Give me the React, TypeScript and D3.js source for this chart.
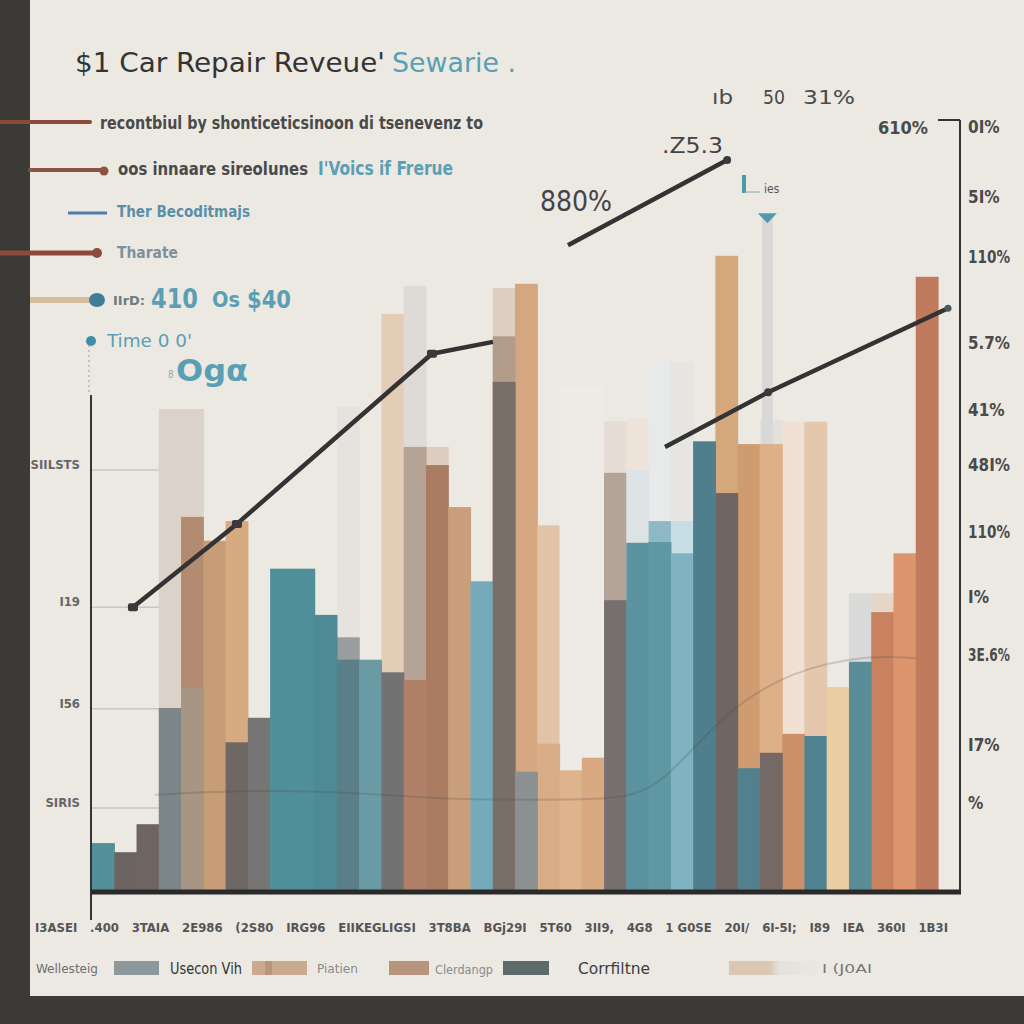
import React from 'react';
import * as d3 from 'd3';

// ---------- DATA ----------
const xLabels = ["I3ASEI", ".400", "3TAIA", "2E986", "(2S80", "IRG96", "EIIKEGLIGSI", "3T8BA", "BGj29I", "5T60", "3II9,", "4G8", "1 G0SE", "20I/", "6I-5I;", "I89", "IEA", "360I", "1B3I"];

const SLOTS = 38;
// back (pale, tall) layer
const backValues = [null, null, null, 68.7, 68.7, null, null, null, null, null, null, 69.0, null, 82.3, 86.3, 63.3, null, null, 86.0, 86.6, 52.1, 72.0, 72.0, 67.0, 67.3, 75.4, 75.4, null, 90.6, 63.7, 67.1, 66.9, 66.9, null, 42.4, 42.4, null, null];
// middle layer
const midValues = [null, null, null, null, 53.3, 49.9, 52.7, null, null, null, null, 36.1, null, null, 63.3, 60.7, 54.7, null, 79.1, null, 20.9, null, null, 59.6, 60.0, 52.7, 52.7, null, 56.7, null, 63.7, 22.3, null, null, null, 39.7, 48.1, 87.6];
// front layer
const frontValues = [6.7, 5.4, 9.4, 26.0, 28.9, null, 21.1, 24.6, 45.9, 45.9, 39.3, 32.9, 32.9, 31.1, 30.0, null, null, 44.1, 72.6, 16.9, null, 17.1, 18.9, 41.4, 49.6, 49.7, 48.1, 64.1, null, 17.4, 19.6, null, 22.0, 29.0, 32.6, null, null, null];
// thin needle bar
const needleSlot = 30;
const needleValue = 96.4;

// trend line segments (slot position, value)
const trend1Slots = [1.84, 6.51, 15.27, 18.01];
const trend1Values = [40.4, 52.3, 76.6, 78.3];
const trend2Slots = [21.38, 28.53];
const trend2Values = [92.1, 104.3];
const trend3Slots = [25.74, 30.37, 38.45];
const trend3Values = [63.3, 71.1, 83.1];
// faint curve
const faintSlots = [2.83, 7.1, 11.6, 16.1, 20.1, 23.3, 25.5, 28.2, 31.4, 34.9, 37.0];
const faintValues = [13.6, 14.3, 14.0, 12.9, 12.9, 12.9, 14.3, 25.0, 31.4, 33.6, 33.1];

const leftTicks = [60.0, 40.4, 25.9, 11.7];
const leftTickLabels = ["SIILSTS", "I19", "I56", "SIRIS"];
const rightTicks = [109, 99, 90.4, 78.1, 68.6, 60.7, 51.1, 41.9, 33.6, 20.7, 12.4];
const rightTickLabels = ["0I%", "5I%", "110%", "5.7%", "41%", "48I%", "110%", "I%", "3E.6%", "I7%", "%"];

const legendLabels = ["Wellesteig", "Usecon Vih", "Piatien", "Clerdangp", "Corrfiltne", "I (J0AI"];

// ---------- STYLES ----------
const backColors = ["", "", "", "#dbd2c9", "#dbd2c9", "", "", "", "", "", "", "#e6e3de", "", "#e3cdb6", "#dedad5", "#dccdc0", "", "", "#ddd0c3", "#d4a781", "#e1c3a8", "#eeebe6", "#eeebe6", "#e6ddd6", "#ede3d8", "#e8e9e9", "#e7e5e2", "", "#d5a77c", "#cf9c72", "#e2e0dc", "#efe0d3", "#e4c8ae", "", "#d9dbdb", "#e6d6c8", "", ""];
const midColors = ["", "", "", "", "#b38b70", "#c69d76", "#d6ab81", "", "", "", "", "#9a9d9d", "", "", "#b5a496", "#a97c62", "#c99f7b", "", "#b49c8a", "", "#d8ad85", "", "", "#b4a398", "#dde3e4", "#8db8c5", "#c6dde3", "", "#6f6563", "", "#deb088", "#cc8f6a", "", "", "", "#c9825f", "#dc956c", "#c07a5d"];
const frontColors = ["#52909a", "#6c6461", "#6e6562", "#7d8688", "#a89584", "", "#6f6763", "#767573", "#4f8f99", "#4f8f99", "#4e8a95", "#5a7f88", "#6a9ba5", "#727272", "#b08168", "", "", "#75aabb", "#7a6e69", "#8b9090", "", "#ddb48c", "#d9a982", "#767170", "#5c93a0", "#5f97a3", "#7fb3c1", "#4f7f8c", "", "#52808c", "#756966", "", "#4f8190", "#ebcfa3", "#5b8d98", "", "", ""];

const FONT = "'Liberation Sans Narrow','DejaVu Sans Condensed','Roboto Condensed',Roboto,sans-serif";
const TEAL = "#5a9fb4";

function measure(labels: string[], font: string): number[] {
  try {
    const ctx = document.createElement('canvas').getContext('2d') as CanvasRenderingContext2D;
    ctx.font = font;
    return labels.map(l => ctx.measureText(l).width);
  } catch (e) {
    return labels.map(l => l.length * 7.5);
  }
}

export default function App() {
  const x = d3.scaleLinear().domain([0, SLOTS]).range([92, 938]);
  const y = d3.scaleLinear().domain([0, 100]).range([890, 190]);
  const y0 = y(0);

  const bar = (vals: (number | null)[], cols: string[], key: string) =>
    vals.map((v, i) =>
      v == null ? null : (
        <rect key={key + i} x={x(i)} y={y(v)} width={x(i + 1) - x(i) + 0.6} height={y0 - y(v)} fill={cols[i]} />
      )
    );

  const lineGen = d3.line<[number, number]>().x(d => x(d[0])).y(d => y(d[1]));
  const seg = (s: number[], v: number[]) => lineGen(s.map((p, i) => [p, v[i]] as [number, number])) || '';
  const faintGen = d3.line<[number, number]>().x(d => x(d[0])).y(d => y(d[1])).curve(d3.curveBasis);

  // x label layout (justified)
  const xlFont = `bold 13px ${FONT}`;
  const widths = measure(xLabels, xlFont);
  const total = widths.reduce((a, b) => a + b, 0);
  const gap = (948 - 35 - total) / (xLabels.length - 1);
  let cx = 35;
  const xlPos = widths.map(w => { const p = cx; cx += w + gap; return p; });

  const rtWidths = measure(rightTickLabels, `bold 17px ${FONT}`);

  const nx0 = x(needleSlot + 0.09), nx1 = x(needleSlot + 0.58);

  return (
    <svg width={1024} height={1024} style={{ position: 'absolute', left: 0, top: 0 }} fontFamily={FONT}>
      <rect x={0} y={0} width={1024} height={1024} fill="#3b3a37" />
      <rect x={30} y={0} width={994} height={996} fill="#ece9e3" />

      {/* title */}
      <text x={75} y={72} fontSize={27} fill="#343434" textLength={310} lengthAdjust="spacingAndGlyphs">$1 Car Repair Reveue'</text>
      <text x={392} y={72} fontSize={27} fill={TEAL} textLength={124} lengthAdjust="spacingAndGlyphs">Sewarie .</text>

      {/* leaders */}
      <line x1={0} y1={122} x2={90} y2={122} stroke="#8c4a3a" strokeWidth={4} strokeLinecap="round" />
      <line x1={30} y1={170} x2={104} y2={170} stroke="#8a5444" strokeWidth={4} strokeLinecap="round" />
      <circle cx={104} cy={171} r={4.5} fill="#8a5444" />
      <line x1={68} y1={213} x2={107} y2={213} stroke="#4d7fae" strokeWidth={3} />
      <line x1={0} y1={253} x2={97} y2={253} stroke="#8c4a3a" strokeWidth={5} strokeLinecap="round" />
      <circle cx={97} cy={253} r={5} fill="#8c4a3a" />
      <line x1={30} y1={300} x2={92} y2={300} stroke="#d8bc9e" strokeWidth={6} />
      <ellipse cx={97} cy={300} rx={8} ry={7} fill="#3f7e98" />

      {/* subtitle texts */}
      <text x={100} y={129} fontSize={17} fontWeight="bold" fill="#4a4a4a" textLength={383} lengthAdjust="spacingAndGlyphs">recontbiul by shonticeticsinoon di tsenevenz to</text>
      <text x={118} y={175} fontSize={17} fontWeight="bold" fill="#4a4a4a" textLength={190} lengthAdjust="spacingAndGlyphs">oos innaare sireolunes</text>
      <text x={318} y={175} fontSize={19} fontWeight="bold" fill={TEAL} textLength={135} lengthAdjust="spacingAndGlyphs">I'Voics if Frerue</text>
      <text x={117} y={217} fontSize={16} fontWeight="bold" fill="#5b8fa8" textLength={133} lengthAdjust="spacingAndGlyphs">Ther Becoditmajs</text>
      <text x={117} y={258} fontSize={15} fontWeight="bold" fill="#7f909a" textLength={61} lengthAdjust="spacingAndGlyphs">Tharate</text>
      <text x={113} y={305} fontSize={13} fontWeight="bold" fill="#707a80" textLength={32} lengthAdjust="spacingAndGlyphs">IIrD:</text>
      <text x={151} y={308} fontSize={26} fontWeight="bold" fill={TEAL} textLength={47} lengthAdjust="spacingAndGlyphs">410</text>
      <text x={212} y={307} fontSize={21} fontWeight="bold" fill={TEAL} textLength={28} lengthAdjust="spacingAndGlyphs">Os</text>
      <text x={247} y={308} fontSize={24} fontWeight="bold" fill={TEAL} textLength={44} lengthAdjust="spacingAndGlyphs">$40</text>
      <circle cx={91} cy={341} r={5} fill="#3f8ea8" />
      <text x={107} y={347} fontSize={18} fill={TEAL} textLength={85} lengthAdjust="spacingAndGlyphs">Time 0 0'</text>
      <text x={168} y={378} fontSize={10} fill="#9aa" >8</text>
      <text x={176} y={381} fontSize={30} fontWeight="bold" fill={TEAL} textLength={72} lengthAdjust="spacingAndGlyphs">Ogα</text>

      {/* top-right annotations */}
      <text x={712} y={104} fontSize={19} fill="#4a4a4a" textLength={21} lengthAdjust="spacingAndGlyphs">ıb</text>
      <text x={763} y={104} fontSize={19} fill="#4a4a4a" textLength={22} lengthAdjust="spacingAndGlyphs">50</text>
      <text x={803} y={104} fontSize={19} fill="#4a4a4a" textLength={52} lengthAdjust="spacingAndGlyphs">31%</text>
      <text x={662} y={153} fontSize={22} fill="#444" textLength={61} lengthAdjust="spacingAndGlyphs">.Z5.3</text>
      <text x={540} y={211} fontSize={28} fill="#444" textLength={72} lengthAdjust="spacingAndGlyphs">880%</text>
      <text x={878} y={134} fontSize={18} fontWeight="bold" fill="#4a4a4a" textLength={50} lengthAdjust="spacingAndGlyphs">610%</text>
      <rect x={742} y={175} width={4} height={18} fill="#4a9aaa" />
      <line x1={744} y1={192} x2={760} y2={192} stroke="#7aaab8" strokeWidth={1} />
      <text x={764} y={193} fontSize={12} fill="#555">ies</text>

      {/* left gridlines */}
      {leftTicks.map((t, i) => (
        <line key={'g' + i} x1={91} x2={175} y1={y(t)} y2={y(t)} stroke="#c9c6c0" strokeWidth={1.5} />
      ))}

      {/* bars */}
      {bar(backValues, backColors, 'b')}
      <rect x={nx0} y={y(needleValue)} width={nx1 - nx0} height={y0 - y(needleValue)} fill="#d8d8d6" />
      <path d={`M${nx0 - 4},${y(needleValue) - 2} L${nx1 + 4},${y(needleValue) - 2} L${(nx0 + nx1) / 2},${y(needleValue) + 8} Z`} fill="#4f9aae" />
      {bar(midValues, midColors, 'm')}
      {bar(frontValues, frontColors, 'f')}

      {/* faint curve */}
      <path d={faintGen(faintSlots.map((p, i) => [p, faintValues[i]] as [number, number])) || ''} fill="none" stroke="#4a4a4a" strokeOpacity={0.22} strokeWidth={2} />

      {/* trend lines */}
      {[[trend1Slots, trend1Values], [trend2Slots, trend2Values], [trend3Slots, trend3Values]].map((s, k) => (
        <path key={'t' + k} d={seg(s[0], s[1])} fill="none" stroke="#333" strokeWidth={4.5} strokeLinejoin="round" />
      ))}
      {trend1Slots.slice(0, 3).map((p, i) => (
        <rect key={'mk' + i} x={x(p) - 5} y={y(trend1Values[i]) - 4} width={10} height={8} rx={2} fill="#3a3a3a" />
      ))}
      <circle cx={x(trend2Slots[1])} cy={y(trend2Values[1])} r={4} fill="#3a3a3a" />
      <circle cx={x(trend3Slots[1])} cy={y(trend3Values[1])} r={4} fill="#3a3a3a" />
      <circle cx={x(trend3Slots[2])} cy={y(trend3Values[2])} r={3.5} fill="#4a5a60" />

      {/* left axis */}
      <line x1={89} x2={89} y1={345} y2={395} stroke="#999" strokeWidth={1} strokeDasharray="2,3" />
      <line x1={91} x2={91} y1={395} y2={920} stroke="#333" strokeWidth={2} />
      {leftTicks.map((t, i) => (
        <text key={'lt' + i} x={80} y={y(t) - 1} fontSize={13} fontWeight="bold" fill="#666" textAnchor="end">{leftTickLabels[i]}</text>
      ))}

      {/* baseline */}
      <line x1={91} x2={961} y1={y0 + 2} y2={y0 + 2} stroke="#2a2a2a" strokeWidth={5} />

      {/* right axis */}
      <line x1={960} x2={960} y1={y(110)} y2={y0} stroke="#333" strokeWidth={2} />
      <line x1={938} x2={960} y1={y(110)} y2={y(110)} stroke="#333" strokeWidth={2} />
      {rightTicks.map((t, i) => (
        <text key={'rt' + i} x={968} y={y(t)} dy="0.35em" fontSize={17} fontWeight="bold" fill="#4a4a4a"
          textLength={Math.min(rtWidths[i], 42)} lengthAdjust="spacingAndGlyphs">{rightTickLabels[i]}</text>
      ))}

      {/* x labels */}
      {xLabels.map((l, i) => (
        <text key={'xl' + i} x={xlPos[i]} y={932} fontSize={13} fontWeight="bold" fill="#555">{l}</text>
      ))}

      {/* legend */}
      <text x={36} y={973} fontSize={12} fill="#6d6d6d" textLength={62} lengthAdjust="spacingAndGlyphs">{legendLabels[0]}</text>
      <rect x={114} y={961} width={45} height={14} fill="#8d989c" />
      <text x={170} y={974} fontSize={15} fill="#333" textLength={72} lengthAdjust="spacingAndGlyphs">{legendLabels[1]}</text>
      <rect x={252} y={961} width={55} height={14} fill="#cbab90" />
      <rect x={265} y={961} width={7} height={14} fill="#b8957a" />
      <text x={317} y={973} fontSize={12} fill="#8a8a8a" textLength={41} lengthAdjust="spacingAndGlyphs">{legendLabels[2]}</text>
      <rect x={389} y={961} width={40} height={14} fill="#b7957d" />
      <text x={435} y={974} fontSize={12} fill="#8a8a8a" textLength={58} lengthAdjust="spacingAndGlyphs">{legendLabels[3]}</text>
      <rect x={503} y={961} width={46} height={14} fill="#5c6a6c" />
      <text x={578} y={974} fontSize={16} fill="#3d3d3d" textLength={72} lengthAdjust="spacingAndGlyphs">{legendLabels[4]}</text>
      <defs>
        <linearGradient id="fade" x1="0" x2="1" y1="0" y2="0">
          <stop offset="0" stopColor="#dcc7b3" />
          <stop offset="0.45" stopColor="#dcc7b3" />
          <stop offset="0.55" stopColor="#e4e1dd" />
          <stop offset="1" stopColor="#ebe8e3" />
        </linearGradient>
      </defs>
      <rect x={729} y={961} width={91} height={14} fill="url(#fade)" />
      <text x={822} y={973} fontSize={12} fill="#777" textLength={50} lengthAdjust="spacingAndGlyphs">{legendLabels[5]}</text>
    </svg>
  );
}
